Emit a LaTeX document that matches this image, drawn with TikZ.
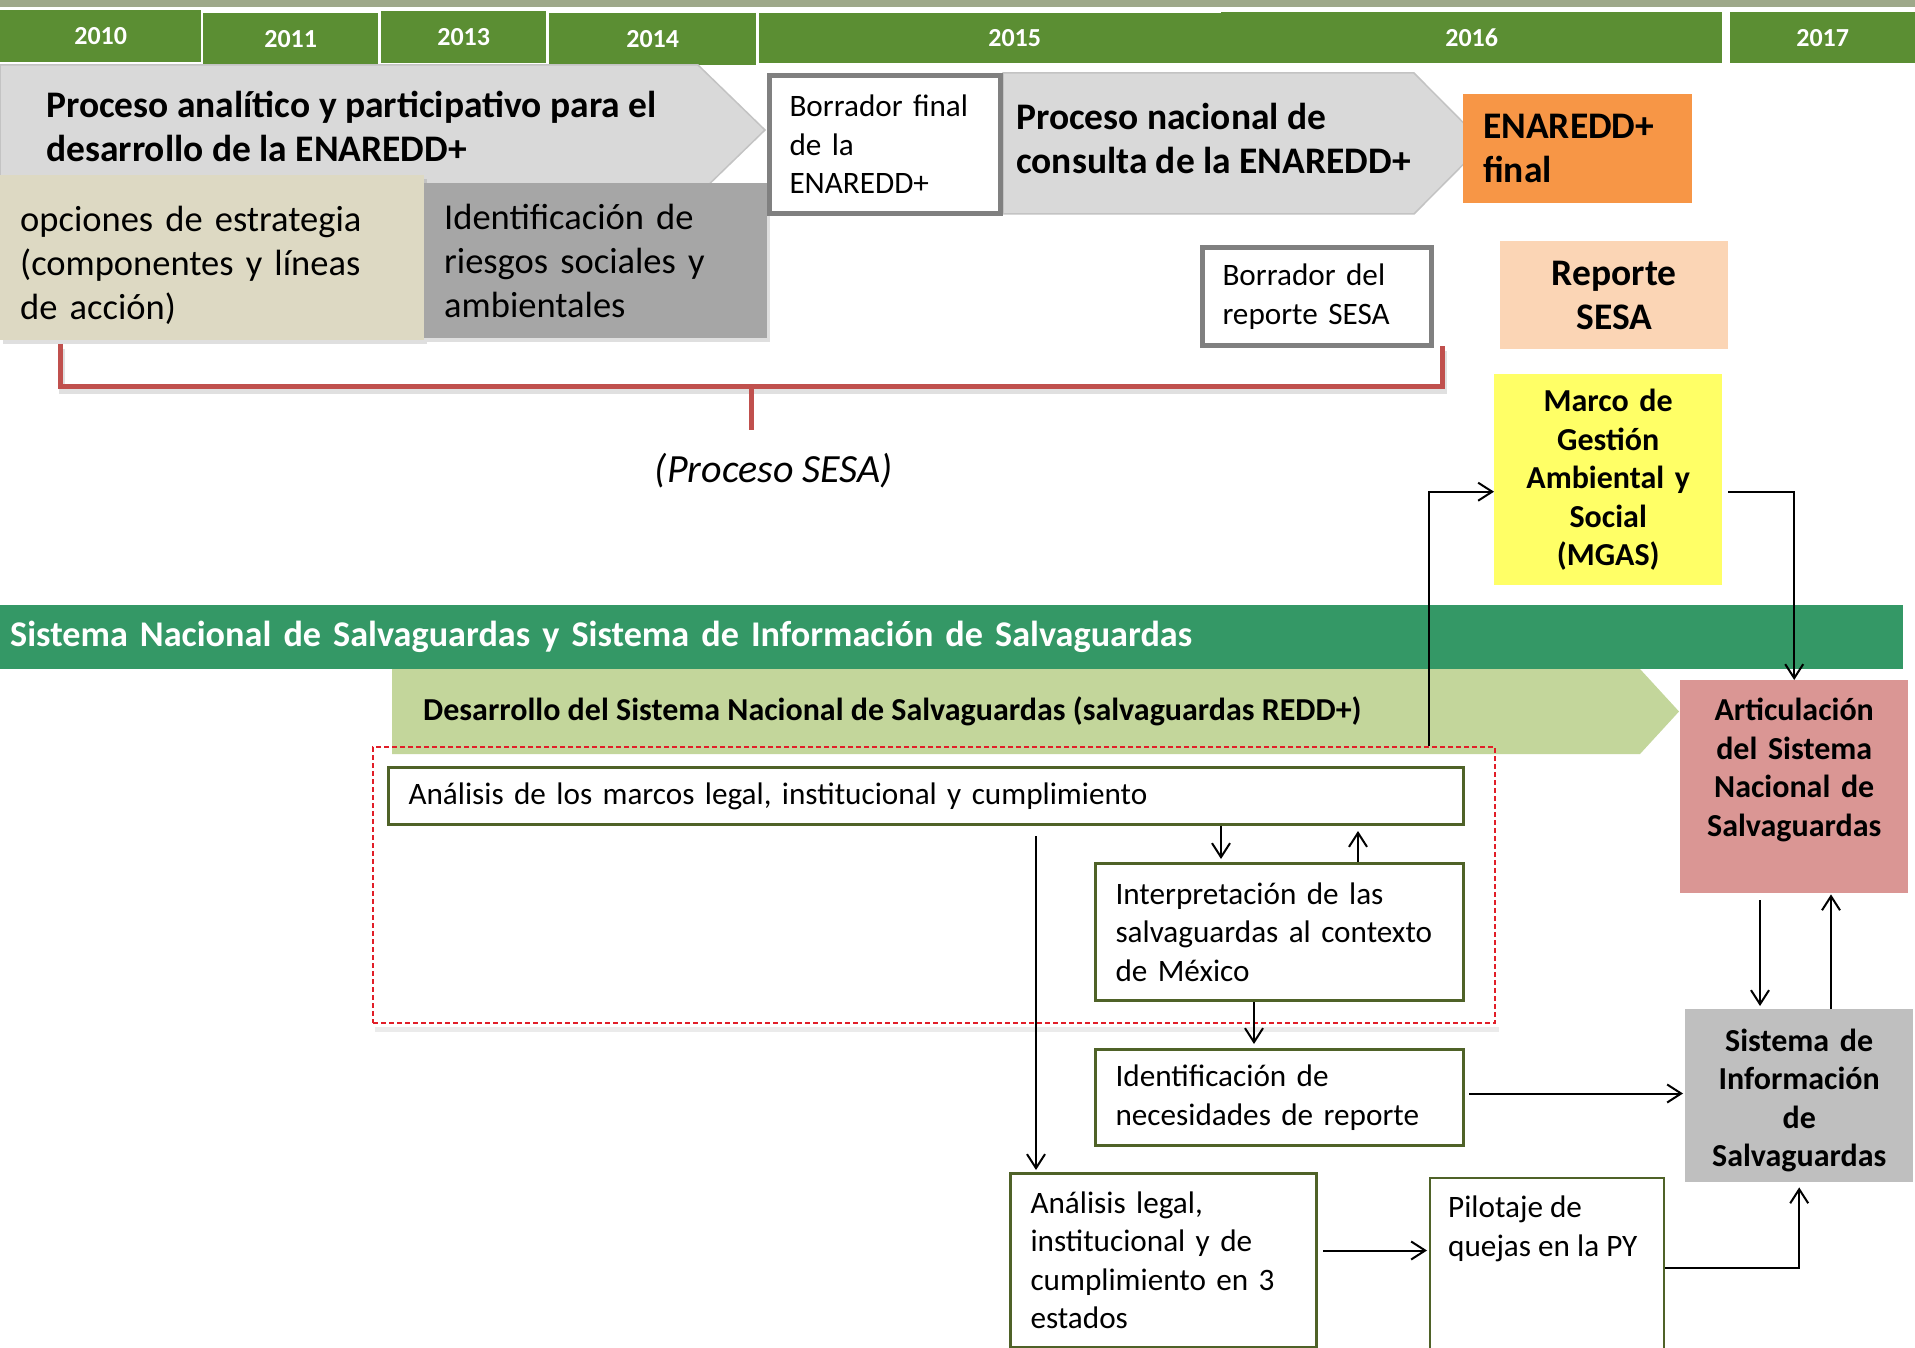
\documentclass[tikz,border=0pt]{standalone}
\usepackage{fontspec}
\setmainfont{Carlito}
\usetikzlibrary{arrows.meta,shadows,positioning}

\newcommand{\yeartext}{\fontsize{26}{30}\selectfont\bfseries}
\newcommand{\bigtext}{\fontsize{36.5}{44}\selectfont}
\newcommand{\bigbold}{\fontsize{37.5}{44}\selectfont\bfseries}
\newcommand{\midtext}{\fontsize{31.2}{38.5}\selectfont}
\newcommand{\midbold}{\fontsize{32}{38.5}\selectfont\bfseries}

\definecolor{topstrip}{RGB}{158,168,138}
\definecolor{yeargreen}{RGB}{91,142,51}
\definecolor{chevgray}{RGB}{217,217,217}
\definecolor{chevedge}{RGB}{195,195,195}
\definecolor{beige}{RGB}{221,217,195}
\definecolor{midgray}{RGB}{166,166,166}
\definecolor{boxgray}{RGB}{128,128,128}
\definecolor{enaorange}{RGB}{247,150,70}
\definecolor{peach}{RGB}{251,213,181}
\definecolor{mgasyellow}{RGB}{255,255,102}
\definecolor{bannergreen}{RGB}{52,152,102}
\definecolor{lightgreen}{RGB}{195,214,155}
\definecolor{olive}{RGB}{79,98,40}
\definecolor{rose}{RGB}{218,150,148}
\definecolor{sisgray}{RGB}{191,191,191}
\definecolor{sesared}{RGB}{192,80,77}
\definecolor{dashred}{RGB}{225,30,40}

\tikzset{
  yearbox/.style={fill=yeargreen, text=white, font=\yeartext, anchor=north west, inner sep=0pt},
  greybox/.style={anchor=north west, inner xsep=20pt, inner ysep=0pt, align=left, font=\bigtext},
  draftbox/.style={anchor=north west, draw=boxgray, line width=5pt, fill=white, inner xsep=20pt, inner ysep=0pt, align=left, font=\midtext},
  stepbox/.style={anchor=north west, draw=olive, line width=3pt, fill=white, inner xsep=20pt, inner ysep=0pt, align=left, font=\midtext},
  keybox/.style={anchor=north west, inner sep=0pt, align=center, font=\midbold},
  softshadow/.style={drop shadow={shadow xshift=3pt, shadow yshift=-4pt, opacity=.25}},
  arr/.style={line width=2pt, -{Straight Barb[length=14pt,width=18pt]}},
}

\begin{document}
\begin{tikzpicture}[x=1pt,y=-1pt]
  \useasboundingbox (0,0) rectangle (1915,1348);
  \fill[white] (0,0) rectangle (1915,1348);
  \fill[topstrip] (0,0) rectangle (1915,7);

  % years
  \node[yearbox, minimum width=201, minimum height=52] (y10) at (0,10) {2010};
  \node[yearbox, minimum width=175, minimum height=52] (y11) at (203,13) {2011};
  \node[yearbox, minimum width=165, minimum height=52] (y13) at (381,11) {2013};
  \node[yearbox, minimum width=207, minimum height=52] (y14) at (549,13) {2014};
  \node[yearbox, minimum width=511, minimum height=50] (y15) at (759,13) {2015};
  \node[yearbox, minimum width=501, minimum height=51] (y16) at (1221,12) {2016};
  \node[yearbox, minimum width=185, minimum height=51] (y17) at (1730,12) {2017};

  % ENAREDD+ process
  \filldraw[fill=chevgray, draw=chevedge, line width=1.5pt] (0,65) -- (698,65) -- (765,130) -- (698,195) -- (0,195) -- cycle;
  \node[anchor=west, align=left, inner sep=0pt, font=\bigbold] (procA) at (46,126)
    {Proceso analítico y participativo para el\\desarrollo de la ENAREDD+};
  \filldraw[fill=chevgray, draw=chevedge, line width=1.5pt] (1003,73) -- (1414,73) -- (1484,143.5) -- (1414,214) -- (1003,214) -- cycle;
  \node[anchor=west, align=left, inner sep=0pt, font=\bigbold] (procB) at (1016,138)
    {Proceso nacional de\\consulta de la ENAREDD+};

  \node[greybox, softshadow, fill=beige, minimum width=424, minimum height=165, text width=384] (opciones) at (0,175)
    {\mbox{}\\[-3pt]opciones de estrategia\\(componentes y líneas\\de acción)};
  \node[greybox, softshadow, fill=midgray, minimum width=343, minimum height=155, text width=303] (riesgos) at (424,183)
    {Identificación de\\riesgos sociales y\\ambientales};
  \node[draftbox, minimum width=231, minimum height=138, text width=191] (borfinal) at (767,73)
    {Borrador final\\de la\\ENAREDD+};
  \node[greybox, fill=enaorange, font=\bigbold, minimum width=229, minimum height=109, text width=189] (enafinal) at (1463,94)
    {ENAREDD+\\final};
  \node[draftbox, minimum width=229, minimum height=98, text width=189] (borsesa) at (1200,245)
    {Borrador del\\reporte SESA};
  \node[keybox, fill=peach, font=\bigbold, minimum width=228, minimum height=108, text width=208] (repsesa) at (1500,241)
    {Reporte\\SESA};

  % SESA bracket
  \coordinate (brL) at (60,344);
  \coordinate (brR) at (1442,346);
  \coordinate (brM) at (751,386);
  \draw[transform canvas={xshift=2pt,yshift=-5pt}, black, opacity=.12, line width=6pt] (brL) -- (brL |- brM) -- (brR |- brM) -- (brR);
  \draw[sesared, line width=5pt] (brL) -- (brL |- brM) -- (brR |- brM) -- (brR);
  \draw[sesared, line width=5pt] (brM) -- ++(0,44);
  \node[font=\fontsize{40}{48}\selectfont\itshape, inner sep=0pt] (sesalabel) at (774,471) {(Proceso SESA)};

  \node[keybox, fill=mgasyellow, minimum width=228, minimum height=211, text width=208] (mgas) at (1494,374)
    {Marco de\\Gestión\\Ambiental y\\Social\\(MGAS)};

  % safeguards system
  \node[anchor=north west, fill=bannergreen, text=white, font=\fontsize{36.2}{44}\selectfont\bfseries, minimum width=1903, minimum height=64,
    text width=1883, inner xsep=10pt, inner ysep=0pt, align=left] (banner) at (0,605)
    {Sistema Nacional de Salvaguardas y Sistema de Información de Salvaguardas};
  \fill[lightgreen] (392,669) -- (1640,669) -- (1679,711.5) -- (1640,754) -- (392,754) -- cycle;
  \node[anchor=west, inner sep=0pt, font=\midbold] (desarrollo) at (423,711)
    {Desarrollo del Sistema Nacional de Salvaguardas (salvaguardas REDD+)};

  \node[anchor=north west, draw=dashred, line width=2pt, dash pattern=on 5pt off 3pt,
    minimum width=1122, minimum height=276, inner sep=0pt] (dashbox) at (372,746) {};
  \draw[transform canvas={xshift=3pt,yshift=-5pt}, black, opacity=.08, line width=5pt] (dashbox.south west) -- (dashbox.south east);

  \node[stepbox, minimum width=1075, minimum height=57, text width=1035] (marcos) at (387,766)
    {Análisis de los marcos legal, institucional y cumplimiento};
  \node[stepbox, minimum width=368, minimum height=137, text width=328] (interp) at (1094,862)
    {Interpretación de las\\salvaguardas al contexto\\de México};
  \node[stepbox, minimum width=368, minimum height=96, text width=328] (necesid) at (1094,1048)
    {Identificación de\\necesidades de reporte};
  \node[stepbox, minimum width=306, minimum height=174, text width=266] (legal3) at (1009,1172)
    {Análisis legal,\\institucional y de\\cumplimiento en 3\\estados};
  \node[stepbox, line width=2pt, minimum width=234, minimum height=190] (pilot) at (1429,1177) {};
  \node[anchor=north west, inner sep=0pt, align=left, font=\midtext] (pilottext) at (1448,1196)
    {Pilotaje de\\quejas en la PY};

  \node[keybox, fill=rose, minimum width=228, minimum height=213, text width=208] (artic) at (1680,680)
    {Articulación\\del Sistema\\Nacional de\\Salvaguardas\\[0pt]\mbox{}};
  \node[keybox, fill=sisgray, minimum width=228, minimum height=173, text width=208] (sis) at (1685,1009)
    {\mbox{}\\[-6.5pt]Sistema de\\Información\\de\\Salvaguardas};

  % connectors
  \coordinate (upx) at (1429,0);
  \coordinate (downx) at (1221,0);
  \coordinate (backx) at (1358,0);
  \coordinate (midx) at (1254,0);
  \coordinate (legalx) at (1036,0);
  \coordinate (sisdx) at (1760,0);
  \coordinate (sisux) at (1831,0);
  \draw[arr] (dashbox.north -| upx) |- ([yshift=-12pt]mgas.west);
  \draw[arr, shorten <=6pt] ([yshift=-12pt]mgas.east) -| (artic.north);
  \draw[arr, shorten >=3pt] (marcos.south -| downx) -- (interp.north -| downx);
  \draw[arr, shorten >=5pt] (interp.north -| backx) -- (marcos.south -| backx);
  \draw[arr, shorten >=4pt] (interp.south -| midx) -- (necesid.north -| midx);
  \draw[arr, shorten <=10pt, shorten >=2pt] (marcos.south -| legalx) -- (legal3.north -| legalx);
  \draw[arr, shorten <=4pt, shorten >=2pt] ([yshift=4pt]necesid.east) -- ([yshift=4pt]necesid.east -| sis.west);
  \draw[arr, shorten <=5pt, shorten >=2pt] ([yshift=10pt]legal3.east) -- ([yshift=10pt]legal3.east -| pilot.west);
  \draw[arr, shorten >=5pt] ([yshift=5pt]pilot.east) -| (sis.south);
  \draw[arr, shorten <=7pt, shorten >=3pt] (artic.south -| sisdx) -- (sis.north -| sisdx);
  \draw[arr, shorten >=1pt] (sis.north -| sisux) -- (artic.south -| sisux);
\end{tikzpicture}
\end{document}
